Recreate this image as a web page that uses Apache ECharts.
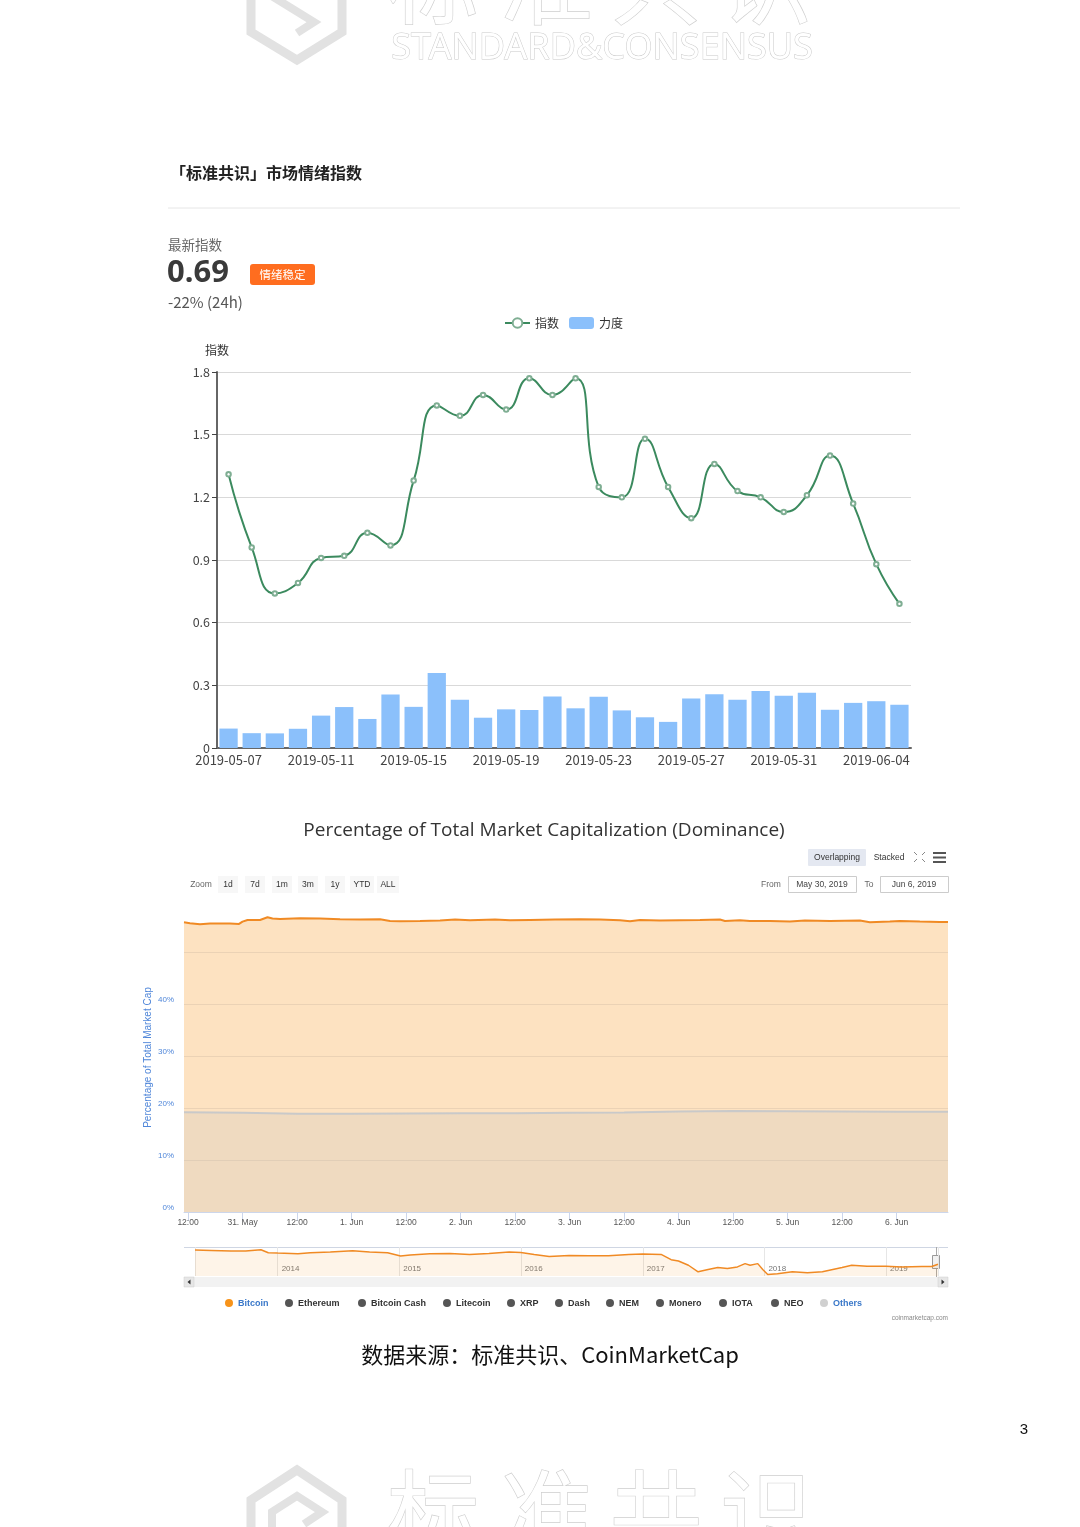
<!DOCTYPE html>
<html><head><meta charset="utf-8">
<script src="https://cdn.jsdelivr.net/npm/echarts@6.0.0/dist/echarts.min.js"></script>
<style>html,body{margin:0;padding:0;background:#fff}#c{width:1080px;height:1527px}</style>
</head><body><div id="c"></div>
<script>
// ---------- Chart 1: 市场情绪指数 ----------
const sentimentDates = ['2019-05-07','2019-05-08','2019-05-09','2019-05-10','2019-05-11','2019-05-12','2019-05-13','2019-05-14','2019-05-15','2019-05-16','2019-05-17','2019-05-18','2019-05-19','2019-05-20','2019-05-21','2019-05-22','2019-05-23','2019-05-24','2019-05-25','2019-05-26','2019-05-27','2019-05-28','2019-05-29','2019-05-30','2019-05-31','2019-06-01','2019-06-02','2019-06-03','2019-06-04','2019-06-05'];
const indexValues = [1.31,0.96,0.74,0.79,0.91,0.92,1.03,0.97,1.28,1.64,1.59,1.69,1.62,1.77,1.69,1.77,1.25,1.20,1.48,1.25,1.10,1.36,1.23,1.20,1.13,1.21,1.40,1.17,0.88,0.69];
const strengthValues = [0.093,0.071,0.070,0.092,0.155,0.196,0.139,0.256,0.197,0.359,0.231,0.145,0.185,0.182,0.246,0.190,0.245,0.180,0.147,0.125,0.237,0.257,0.231,0.273,0.250,0.264,0.183,0.216,0.224,0.207];

// ---------- Chart 2: Dominance (last 7 days) ----------
const btcTimes = ['2019-05-30 11:07','2019-05-30 12:26','2019-05-30 14:38','2019-05-30 16:50','2019-05-30 19:03','2019-05-30 21:15','2019-05-30 23:14','2019-05-31 00:00','2019-05-31 01:06','2019-05-31 03:51','2019-05-31 05:30','2019-05-31 06:36','2019-05-31 08:15','2019-05-31 12:40','2019-05-31 17:04','2019-05-31 21:28','2019-06-01 01:52','2019-06-01 06:16','2019-06-01 08:28','2019-06-01 10:40','2019-06-01 15:05','2019-06-01 19:29','2019-06-01 22:47','2019-06-02 02:05','2019-06-02 07:35','2019-06-02 10:54','2019-06-02 15:18','2019-06-02 20:48','2019-06-03 02:18','2019-06-03 06:42','2019-06-03 11:06','2019-06-03 13:18','2019-06-03 15:30','2019-06-03 19:54','2019-06-04 00:18','2019-06-04 04:42','2019-06-04 09:06','2019-06-04 10:12','2019-06-04 13:30','2019-06-04 15:42','2019-06-04 20:06','2019-06-05 00:30','2019-06-05 03:48','2019-06-05 09:18','2019-06-05 15:54','2019-06-05 18:06','2019-06-05 22:30','2019-06-06 00:42','2019-06-06 05:06','2019-06-06 09:30','2019-06-06 11:18'];
const btcDominance = [55.70,55.51,55.32,55.45,55.45,55.45,55.38,55.83,56.15,56.15,56.67,56.41,56.35,56.47,56.41,56.28,56.22,56.28,55.96,55.90,55.96,56.03,56.22,56.09,56.22,56.09,56.15,56.22,56.28,56.22,56.09,55.90,56.15,56.03,56.09,56.15,56.22,55.96,56.09,55.96,55.96,55.83,56.03,55.96,56.03,55.70,55.83,55.96,55.83,55.77,55.77];
const othersTimes = ['2019-05-30 11:07','2019-05-31 00:00','2019-05-31 12:00','2019-06-01 00:00','2019-06-01 12:00','2019-06-02 00:00','2019-06-02 12:00','2019-06-03 00:00','2019-06-03 12:00','2019-06-04 00:00','2019-06-04 12:00','2019-06-05 00:00','2019-06-05 12:00','2019-06-06 00:00','2019-06-06 11:18'];
const othersDominance = [19.2,19.1,18.9,18.9,18.95,19.0,19.0,19.1,19.15,19.3,19.4,19.35,19.3,19.25,19.25];
const dominanceTicks = ['0%','10%','20%','30%','40%'];

// ---------- Navigator: Bitcoin dominance history ----------
const navDates = ['2013-04-28','2013-06-16','2013-08-14','2013-09-27','2013-11-12','2013-12-04','2014-01-01','2014-03-03','2014-04-09','2014-06-08','2014-08-14','2014-10-04','2014-11-27','2015-01-05','2015-02-03','2015-04-03','2015-06-02','2015-07-31','2015-09-27','2015-11-27','2016-01-01','2016-02-10','2016-03-26','2016-05-25','2016-07-24','2016-09-20','2016-11-20','2017-01-01','2017-02-25','2017-03-27','2017-04-18','2017-05-18','2017-06-16','2017-07-16','2017-08-14','2017-09-12','2017-10-12','2017-11-04','2017-11-19','2017-12-12','2017-12-27','2018-01-11','2018-02-09','2018-03-26','2018-05-10','2018-06-24','2018-08-22','2018-09-20','2018-11-05','2019-01-01','2019-02-17','2019-04-18','2019-05-18','2019-06-06'];
const navDominance = [95.0,94.2,92.5,92.5,95.9,88.2,87.3,85.5,88.2,89.9,93.3,89.9,88.2,79.5,82.1,85.5,86.4,83.8,86.4,89.9,89.0,83.8,78.7,81.3,80.4,80.4,83.8,84.6,83.8,70.2,66.8,55.8,38.8,44.7,49.8,47.3,51.5,60.0,55.8,60.0,44.7,32.0,33.7,38.8,36.3,38.8,49.8,55.8,53.2,53.2,51.5,52.4,52.4,58.3];

const legendNames = ['Bitcoin','Ethereum','Bitcoin Cash','Litecoin','XRP','Dash','NEM','Monero','IOTA','NEO','Others'];
const zoomButtons = ['1d','7d','1m','3m','1y','YTD','ALL'];

// ---------- layout helpers (positions only) ----------
const legendDotX = [229,289,362,447,511,559,610,660,723,775,824];
const legendDotColor = ['#f7931a','#555','#555','#555','#555','#555','#555','#555','#555','#555','#d0d0d0'];
const legendTextColor = ['#3a78c9','#333','#333','#333','#333','#333','#333','#333','#333','#333','#3a78c9'];
const zoomBtnX = [228,255,282,308,335,362,388];
const zoomBtnW = [20,20,20,20,20,24,22];

const CJK = "'Noto Sans CJK SC','Noto Sans',sans-serif";
const HC = "'Liberation Sans','DejaVu Sans',sans-serif";
const monthNames = ['Jan','Feb','Mar','Apr','May','Jun','Jul','Aug','Sep','Oct','Nov','Dec'];
const ts = s => +new Date(s.replace(' ','T') + (s.length === 10 ? 'T00:00:00' : ':00'));

const graphics = [];
function txt(x, y, text, size, color, opts) {
  opts = opts || {};
  graphics.push({type:'text', x:x, y:y, z:100, style:Object.assign({text:text, fontSize:size, fill:color, fontFamily:opts.family||CJK, fontWeight:opts.weight||'normal', align:opts.align||'left', verticalAlign:opts.v||'middle'}, opts.extra||{})});
}
// watermarks
['标','准','共','识'].forEach((c,i)=>{
  graphics.push({type:'text', x:[433,547,656,766][i], y:-18, style:{text:c, fontSize:92, fontFamily:CJK, fill:'#fff', stroke:'#cfcfcf', lineWidth:1.3, align:'center', verticalAlign:'middle'}});
  graphics.push({type:'text', x:[433,547,656,766][i], y:1512, style:{text:c, fontSize:92, fontFamily:CJK, fill:'#fff', stroke:'#cfcfcf', lineWidth:1.3, align:'center', verticalAlign:'middle'}});
});
graphics.push({type:'text', x:602, y:49, style:{text:'STANDARD&CONSENSUS', fontSize:36, fontFamily:"'Noto Sans',sans-serif", fill:'#fff', stroke:'#cacaca', lineWidth:1, align:'center', verticalAlign:'middle'}});
graphics.push({type:'polyline', shape:{points:[[251,-5],[251,32],[297,60],[342,32],[342,-5]]}, style:{stroke:'#e2e2e2', lineWidth:9, fill:null}});
graphics.push({type:'polyline', shape:{points:[[270,-5],[314,22],[297,33]]}, style:{stroke:'#e2e2e2', lineWidth:8, fill:null}});
graphics.push({type:'polyline', shape:{points:[[251,1532],[251,1500],[297,1470],[342,1500],[342,1532]]}, style:{stroke:'#e2e2e2', lineWidth:9, fill:null}});
graphics.push({type:'polyline', shape:{points:[[272,1532],[272,1512],[297,1496],[322,1512],[304,1524]]}, style:{stroke:'#e2e2e2', lineWidth:8, fill:null}});

// header
txt(170, 173, '「标准共识」市场情绪指数', 16, '#222', {weight:'bold'});
graphics.push({type:'line', shape:{x1:168,y1:208,x2:960,y2:208}, style:{stroke:'#e6e6e6', lineWidth:1}});
txt(168, 245, '最新指数', 13.5, '#666');
txt(167, 273, '0.69', 31, '#3a3a3a', {weight:'bold', family:"'Noto Sans','Open Sans',sans-serif"});
graphics.push({type:'rect', shape:{x:250,y:264,width:65,height:21,r:3}, style:{fill:'#ff6d1f'}});
txt(282.5, 274.5, '情绪稳定', 11.5, '#fff', {align:'center'});
txt(168, 302, '-22% (24h)', 15, '#555');

// chart 2 title + toolbar
txt(544, 831, 'Percentage of Total Market Capitalization (Dominance)', 19, '#333', {align:'center', family:"'Open Sans','Noto Sans',sans-serif"});
graphics.push({type:'rect', shape:{x:808,y:849,width:58,height:17,r:1}, style:{fill:'#e4e8f1'}});
txt(837, 857.5, 'Overlapping', 8.5, '#333', {align:'center', family:HC});
txt(889, 857.5, 'Stacked', 8.5, '#333', {align:'center', family:HC});
[[914,852,917,855],[925,852,922,855],[914,862,917,859],[925,862,922,859]].forEach(p=>graphics.push({type:'line', shape:{x1:p[0],y1:p[1],x2:p[2],y2:p[3]}, style:{stroke:'#888', lineWidth:1}}));
[853,857.5,862].forEach(y=>graphics.push({type:'line', shape:{x1:933,y1:y,x2:946,y2:y}, style:{stroke:'#555', lineWidth:2}}));
txt(201, 885, 'Zoom', 8.5, '#666', {align:'center', family:HC});
zoomButtons.forEach((b,i)=>{
  graphics.push({type:'rect', shape:{x:zoomBtnX[i]-zoomBtnW[i]/2,y:876,width:zoomBtnW[i],height:17}, style:{fill:'#f7f7f7'}});
  txt(zoomBtnX[i], 884.5, b, 8.5, '#333', {align:'center', family:HC});
});
txt(771, 884.5, 'From', 8.5, '#666', {align:'center', family:HC});
graphics.push({type:'rect', shape:{x:788.5,y:876.5,width:68,height:16}, style:{fill:'#fff', stroke:'#ccc', lineWidth:1}});
txt(822, 884.5, 'May 30, 2019', 8.5, '#444', {align:'center', family:HC});
txt(869, 884.5, 'To', 8.5, '#666', {align:'center', family:HC});
graphics.push({type:'rect', shape:{x:880.5,y:876.5,width:68,height:16}, style:{fill:'#fff', stroke:'#ccc', lineWidth:1}});
txt(914, 884.5, 'Jun 6, 2019', 8.5, '#444', {align:'center', family:HC});

// navigator frame & scrollbar
graphics.push({type:'line', shape:{x1:184,y1:1247.5,x2:948,y2:1247.5}, style:{stroke:'#cfd6e3', lineWidth:1}});
graphics.push({type:'rect', shape:{x:184,y:1277,width:764,height:10}, style:{fill:'#f2f2f2'}});
graphics.push({type:'rect', shape:{x:184,y:1277,width:10,height:10}, style:{fill:'#e6e6e6', stroke:'#ccc', lineWidth:0.5}});
graphics.push({type:'rect', shape:{x:938,y:1277,width:10,height:10}, style:{fill:'#e6e6e6', stroke:'#ccc', lineWidth:0.5}});
graphics.push({type:'polygon', shape:{points:[[190.5,1279.5],[187.5,1282],[190.5,1284.5]]}, style:{fill:'#333'}});
graphics.push({type:'polygon', shape:{points:[[941.5,1279.5],[944.5,1282],[941.5,1284.5]]}, style:{fill:'#333'}});
graphics.push({type:'line', shape:{x1:936.5,y1:1247,x2:936.5,y2:1277}, style:{stroke:'#aaa', lineWidth:1}});
graphics.push({type:'rect', shape:{x:932.5,y:1255.5,width:7,height:13}, style:{fill:'#f2f2f2', stroke:'#999', lineWidth:1}});

// chart 2 legend
legendNames.forEach((n,i)=>{
  graphics.push({type:'circle', shape:{cx:legendDotX[i], cy:1303, r:4}, style:{fill:legendDotColor[i]}});
  txt(legendDotX[i]+9, 1303.5, n, 9, legendTextColor[i], {weight:'bold', family:HC});
});
txt(948, 1318, 'coinmarketcap.com', 6.5, '#888', {align:'right', family:HC});

// footer
txt(550, 1355, '数据来源：标准共识、CoinMarketCap', 22, '#111', {align:'center'});
txt(1024, 1430, '3', 15, '#111', {align:'center', family:"'Liberation Sans',sans-serif"});

const chart = echarts.init(document.getElementById('c'), null, {renderer:'canvas'});
const option = {
  animation:false,
  backgroundColor:'#fff',
  textStyle:{fontFamily:CJK},
  legend:{data:['指数','力度'], left:499, top:312, itemWidth:25, itemHeight:12, itemGap:10, textStyle:{fontSize:12, color:'#333', fontFamily:CJK}},
  grid:[
    {left:217, right:169, top:372, bottom:779},
    {left:184, right:132, top:915, bottom:315},
    {left:195, right:142, top:1247, height:29}
  ],
  xAxis:[
    {type:'category', gridIndex:0, data:sentimentDates, boundaryGap:true,
     axisLine:{lineStyle:{color:'#666', width:2}},
     axisTick:{alignWithLabel:true, interval:(i)=>i%4===2, length:5, lineStyle:{color:'#444'}},
     axisLabel:{interval:3, color:'#444', fontSize:13, fontFamily:CJK, margin:6},
     splitLine:{show:false}},
    {type:'time', gridIndex:1, min:ts('2019-05-30 11:07'), max:ts('2019-06-06 11:18'),
     minInterval:13.5*3600*1000, maxInterval:13.5*3600*1000,
     axisLine:{lineStyle:{color:'#ccd6eb'}},
     axisTick:{show:true, length:9, lineStyle:{color:'#ccd6eb'}},
     axisLabel:{fontSize:8.5, color:'#555', fontFamily:HC, margin:6, showMinLabel:false, showMaxLabel:false,
       formatter:(v)=>{const d=new Date(v);const h=d.getHours(),m=d.getMinutes(); if(h===0&&m===0) return d.getDate()+'. '+monthNames[d.getMonth()]; return String(h).padStart(2,'0')+':'+String(m).padStart(2,'0');}},
     splitLine:{show:false}},
    {type:'time', gridIndex:2, min:ts('2013-04-28'), max:ts('2019-06-06'),
     minInterval:365*86400000, maxInterval:366*86400000,
     axisLine:{show:false}, axisTick:{show:false},
     axisLabel:{inside:true, fontSize:8, color:'#777', fontFamily:HC, align:'left', padding:[0,0,0,4], margin:3, showMinLabel:false, showMaxLabel:false,
       formatter:(v)=>String(new Date(v).getFullYear())},
     splitLine:{show:true, lineStyle:{color:'#e6e6e6'}}}
  ],
  yAxis:[
    {type:'value', gridIndex:0, min:0, max:1.8, interval:0.3, name:'指数', nameGap:16,
     nameTextStyle:{color:'#333', fontSize:12, fontFamily:CJK, align:'center'},
     axisLine:{show:true, lineStyle:{color:'#666', width:2}},
     axisTick:{show:true, length:5, lineStyle:{color:'#444'}},
     axisLabel:{color:'#444', fontSize:12.5, fontFamily:CJK, margin:7},
     splitLine:{lineStyle:{color:'#d9d9d9'}}},
    {type:'value', gridIndex:1, min:0, max:57.1, interval:10,
     name:'Percentage of Total Market Cap', nameLocation:'middle', nameRotate:90, nameGap:31, nameMoveOverlap:false,
     nameTextStyle:{color:'#4f86d9', fontSize:10, fontFamily:HC, padding:[0,0,0,12]},
     axisLine:{show:false}, axisTick:{show:false},
     axisLabel:{fontSize:8, color:'#4f86d9', fontFamily:HC, margin:10, verticalAlign:'bottom',
       formatter:(v)=>{const i=Math.round(v/10); return (Math.abs(v-i*10)<0.01 && i<dominanceTicks.length)?dominanceTicks[i]:'';}},
     splitLine:{show:true, showMaxLine:false, lineStyle:{color:'#e6e9ef'}}},
    {type:'value', gridIndex:2, min:28, max:103, show:false, splitLine:{show:false}}
  ],
  series:[
    {name:'力度', type:'bar', xAxisIndex:0, yAxisIndex:0, data:strengthValues, barCategoryGap:'21%',
     itemStyle:{color:'#8bc0fb'}},
    {name:'指数', type:'line', xAxisIndex:0, yAxisIndex:0, data:indexValues, smooth:0.5,
     symbol:'emptyCircle', symbolSize:4.5, z:5,
     lineStyle:{color:'#3b8a5e', width:2}, itemStyle:{color:'#7fae93', borderWidth:1}},
    {name:'Bitcoin', type:'line', xAxisIndex:1, yAxisIndex:1, symbol:'none',
     data:btcTimes.map((t,i)=>[ts(t), btcDominance[i]]),
     lineStyle:{color:'#f08a24', width:2}, areaStyle:{color:'#f7931a', opacity:0.27}},
    {name:'Others', type:'line', xAxisIndex:1, yAxisIndex:1, symbol:'none',
     data:othersTimes.map((t,i)=>[ts(t), othersDominance[i]]),
     lineStyle:{color:'#c9c9c9', width:2}, areaStyle:{color:'#bdbdbd', opacity:0.22}},
    {name:'BTC history', type:'line', xAxisIndex:2, yAxisIndex:2, symbol:'none',
     data:navDates.map((t,i)=>[ts(t), navDominance[i]]),
     lineStyle:{color:'#f08a24', width:1.5}, areaStyle:{color:'#f7931a', opacity:0.1}}
  ],
  graphic:graphics
};
chart.setOption(option);
</script></body></html>
